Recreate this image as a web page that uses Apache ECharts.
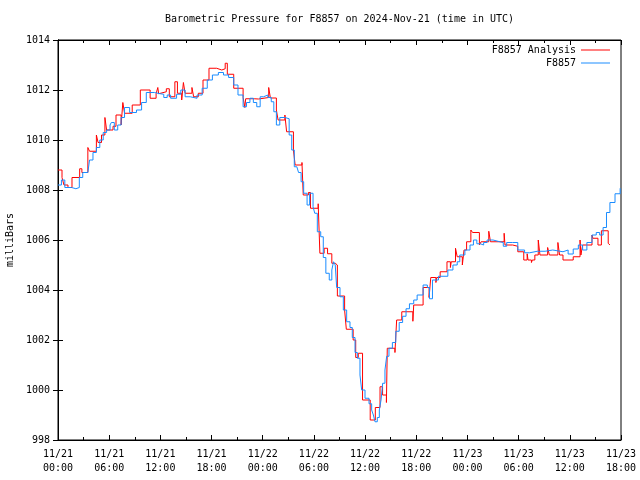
<!DOCTYPE html>
<html>
<head>
<meta charset="utf-8">
<script src="https://cdn.jsdelivr.net/npm/echarts@6/dist/echarts.min.js"></script>
<style>
html,body{margin:0;padding:0;background:#fff;}
#chart{width:640px;height:480px;}
</style>
</head>
<body>
<div id="chart"></div>
<script>
// Hours since 2024-11-21 00:00 UTC
var xTickLabels = ['11/21\n00:00','11/21\n06:00','11/21\n12:00','11/21\n18:00','11/22\n00:00','11/22\n06:00','11/22\n12:00','11/22\n18:00','11/23\n00:00','11/23\n06:00','11/23\n12:00','11/23\n18:00'];
var yTickLabels = ['998','1000','1002','1004','1006','1008','1010','1012','1014'];

var analysisHours = [0,0.47,0.7,1.17,1.64,2.54,2.8,3.5,3.7,4.5,4.7,5.1,5.5,5.7,6.45,6.8,7.4,7.6,7.8,8.7,9.65,10.8,11.5,11.7,11.8,12.0,12.7,13.05,13.7,14.0,14.5,14.7,14.9,15.7,15.9,16.45,17.0,17.7,18.6,19.2,19.6,19.85,20.6,21.7,21.9,22.0,23.0,23.5,24.7,24.9,25.6,25.8,26.6,26.8,27.6,27.8,28.6,28.75,29.35,29.6,30.5,30.7,31.2,31.6,32.1,32.5,32.75,33.6,33.8,34.6,34.9,35.2,35.7,36.6,37.2,37.75,38.05,38.5,38.6,39.5,39.7,40.3,41.6,41.7,42.8,43.5,43.7,44.3,44.4,44.8,45.6,46.0,46.1,46.6,46.8,47.4,47.6,47.9,48.4,48.6,49.4,49.6,50.5,50.7,52.3,52.4,53.3,53.9,54.6,55.0,55.1,55.5,55.6,55.9,56.3,56.5,57.4,57.6,58.6,58.8,59.2,60.4,61.2,61.3,61.5,62.6,62.7,63.3,63.7,64.5,64.7];
var analysisValues = [1008.8,1008.5,1008.2,1008.1,1008.5,1008.85,1008.7,1009.7,1009.55,1010.2,1009.9,1010.2,1010.9,1010.4,1010.55,1011.0,1010.6,1011.5,1011.07,1011.4,1012.0,1011.67,1011.85,1012.1,1011.85,1011.93,1012.05,1011.73,1012.33,1011.87,1011.6,1012.3,1011.87,1012.1,1011.73,1011.87,1012.4,1012.87,1012.8,1012.85,1013.07,1012.63,1012.07,1011.7,1011.3,1011.65,1011.64,1011.7,1012.1,1011.68,1011.2,1010.8,1011.0,1010.33,1009.6,1009.0,1009.1,1007.8,1007.9,1007.27,1007.45,1005.47,1005.67,1005.45,1005.07,1005.0,1003.76,1003.2,1002.43,1002.0,1001.3,1001.47,999.6,998.8,999.3,1000.13,999.8,999.5,1001.67,1001.5,1002.8,1003.13,1002.75,1003.4,1004.1,1003.7,1004.5,1004.3,1004.5,1004.73,1005.13,1004.9,1005.13,1005.67,1005.33,1005.0,1005.6,1005.93,1006.4,1006.3,1005.8,1005.93,1006.35,1005.93,1006.27,1005.8,1005.75,1005.53,1005.2,1005.45,1005.2,1005.1,1005.2,1005.4,1006.0,1005.4,1005.7,1005.4,1005.9,1005.4,1005.2,1005.33,1006.0,1005.4,1005.8,1006.2,1006.07,1005.8,1006.37,1005.87,1005.8];

var stationHours = [0,0.4,0.8,1.6,2.1,2.5,2.9,3.5,3.7,4.1,4.5,4.9,5.3,5.7,6.1,6.25,6.6,7.0,7.4,7.8,8.4,9.2,9.8,10.35,11.3,12.0,12.4,12.8,13.2,13.9,14.4,14.9,15.5,16.3,16.9,17.5,18.1,18.8,19.4,20.0,20.6,21.1,21.7,22.1,22.5,22.9,23.3,23.7,24.1,24.6,25.0,25.3,25.6,26.0,26.6,27.1,27.4,27.7,28.0,28.2,28.5,28.8,29.2,29.5,29.9,30.1,30.4,30.8,31.1,31.4,31.8,32.1,32.3,32.5,32.67,33.06,33.45,33.84,34.23,34.5,34.82,35.09,35.4,35.6,35.99,36.46,36.77,36.97,37.16,37.43,37.67,37.87,38.06,38.33,38.53,38.8,39.2,39.6,40.0,40.4,40.8,41.2,41.7,42.1,42.8,43.3,43.55,43.9,44.6,45.7,46.3,46.8,47.1,47.7,48.3,48.7,49.1,49.5,49.9,50.3,51.0,51.8,52.2,52.6,53.3,53.9,54.7,55.3,56.2,57.1,58.0,59.2,59.8,60.4,61.0,61.5,62.0,62.6,63.1,63.5,63.9,64.3,64.7,65.3,65.9];
var stationValues = [1008.2,1008.4,1008.1,1008.05,1008.1,1008.5,1008.7,1008.7,1009.2,1009.5,1009.7,1010.0,1010.3,1010.4,1010.6,1010.7,1010.4,1010.6,1010.9,1011.3,1011.1,1011.2,1011.5,1011.9,1011.85,1011.83,1011.7,1011.8,1011.67,1011.83,1012.0,1011.73,1011.67,1011.8,1012.07,1012.4,1012.6,1012.7,1012.6,1012.5,1012.2,1011.8,1011.33,1011.5,1011.67,1011.5,1011.33,1011.73,1011.8,1011.7,1011.53,1011.13,1010.6,1010.9,1010.85,1010.2,1009.6,1008.93,1009.0,1008.7,1008.33,1007.87,1007.4,1007.87,1007.33,1007.07,1006.33,1006.13,1005.3,1004.67,1004.4,1004.8,1005.13,1005.0,1004.1,1003.73,1003.2,1002.73,1002.5,1002.1,1001.5,1001.27,1000.6,1000.0,999.67,999.45,999.2,999.0,998.73,998.9,999.2,999.6,1000.27,1000.8,1001.35,1001.67,1001.9,1002.35,1002.7,1002.95,1003.25,1003.45,1003.6,1003.8,1004.2,1004.1,1003.65,1004.4,1004.55,1004.8,1005.0,1005.13,1005.4,1005.6,1005.8,1006.0,1005.85,1005.8,1005.9,1006.0,1005.93,1005.9,1005.75,1005.9,1005.9,1005.6,1005.49,1005.55,1005.55,1005.6,1005.53,1005.6,1005.44,1005.64,1005.8,1005.6,1005.9,1006.2,1006.3,1006.2,1006.5,1007.1,1007.5,1007.85,1008.07];

function zip(a, b) { return a.map(function (v, i) { return [v, b[i]]; }); }

var FONT = 'DejaVu Sans Mono';
var chart = echarts.init(document.getElementById('chart'), null, {renderer: 'canvas'});
var xCommon = {
  type: 'value', min: 0, max: 66, interval: 6,
  splitLine: {show: false},
  axisLine: {show: true, lineStyle: {color: '#000', width: 1}},
  axisTick: {show: true, inside: true, length: 5, lineStyle: {color: '#000'}},
  minorTick: {show: true, splitNumber: 2, length: 3, lineStyle: {color: '#000'}}
};
var yCommon = {
  type: 'value', min: 998, max: 1014, interval: 2,
  splitLine: {show: false},
  axisLine: {show: true, lineStyle: {color: '#000', width: 1}},
  axisTick: {show: true, inside: true, length: 5, lineStyle: {color: '#000'}},
  minorTick: {show: false}
};
chart.setOption({
  animation: false,
  backgroundColor: '#fff',
  grid: {left: 58, right: 19, top: 40, bottom: 40, show: true, borderColor: '#000', borderWidth: 1,
    containLabel: false, outerBoundsMode: 'none'},
  graphic: [{
    type: 'text', x: 339.5, y: 19,
    style: {text: 'Barometric Pressure for F8857 on 2024-Nov-21 (time in UTC)', font: '10px "DejaVu Sans Mono"', fill: '#000', textAlign: 'center', textVerticalAlign: 'middle'}
  }],
  legend: [{
    data: ['F8857 Analysis'], orient: 'vertical', right: 30, top: 44, align: 'right', padding: 0,
    icon: 'rect', itemWidth: 29, itemHeight: 1,
    textStyle: {fontFamily: FONT, fontSize: 10, color: '#000', lineHeight: 12}
  }, {
    data: ['F8857'], orient: 'vertical', right: 30, top: 57, align: 'right', padding: 0,
    icon: 'rect', itemWidth: 29, itemHeight: 1,
    textStyle: {fontFamily: FONT, fontSize: 10, color: '#000', lineHeight: 12}
  }],
  xAxis: [
    Object.assign({}, xCommon, {
      position: 'bottom',
      axisLabel: {fontFamily: FONT, fontSize: 10, color: '#000', lineHeight: 14, margin: 7,
        formatter: function (v) { return xTickLabels[Math.round(v / 6)] || ''; }}
    }),
    Object.assign({}, xCommon, {position: 'top', axisLabel: {show: false}})
  ],
  yAxis: [
    Object.assign({}, yCommon, {
      position: 'left',
      name: 'milliBars', nameLocation: 'middle', nameGap: 42, nameRotate: 90,
      nameTextStyle: {fontFamily: FONT, fontSize: 10, color: '#000'},
      axisLabel: {fontFamily: FONT, fontSize: 10, color: '#000', margin: 8,
        formatter: function (v) { return yTickLabels[Math.round((v - 998) / 2)] || ''; }}
    }),
    Object.assign({}, yCommon, {position: 'right', axisLabel: {show: false}})
  ],
  series: [{
    name: 'F8857 Analysis', type: 'line', step: 'end', showSymbol: false,
    xAxisIndex: 0, yAxisIndex: 0,
    itemStyle: {color: '#ff0000'},
    lineStyle: {color: '#ff0000', width: 1},
    data: zip(analysisHours, analysisValues)
  }, {
    name: 'F8857', type: 'line', step: 'end', showSymbol: false,
    xAxisIndex: 0, yAxisIndex: 0,
    itemStyle: {color: '#1a8cff'},
    lineStyle: {color: '#1a8cff', width: 1},
    data: zip(stationHours, stationValues)
  }]
});
</script>
</body>
</html>
